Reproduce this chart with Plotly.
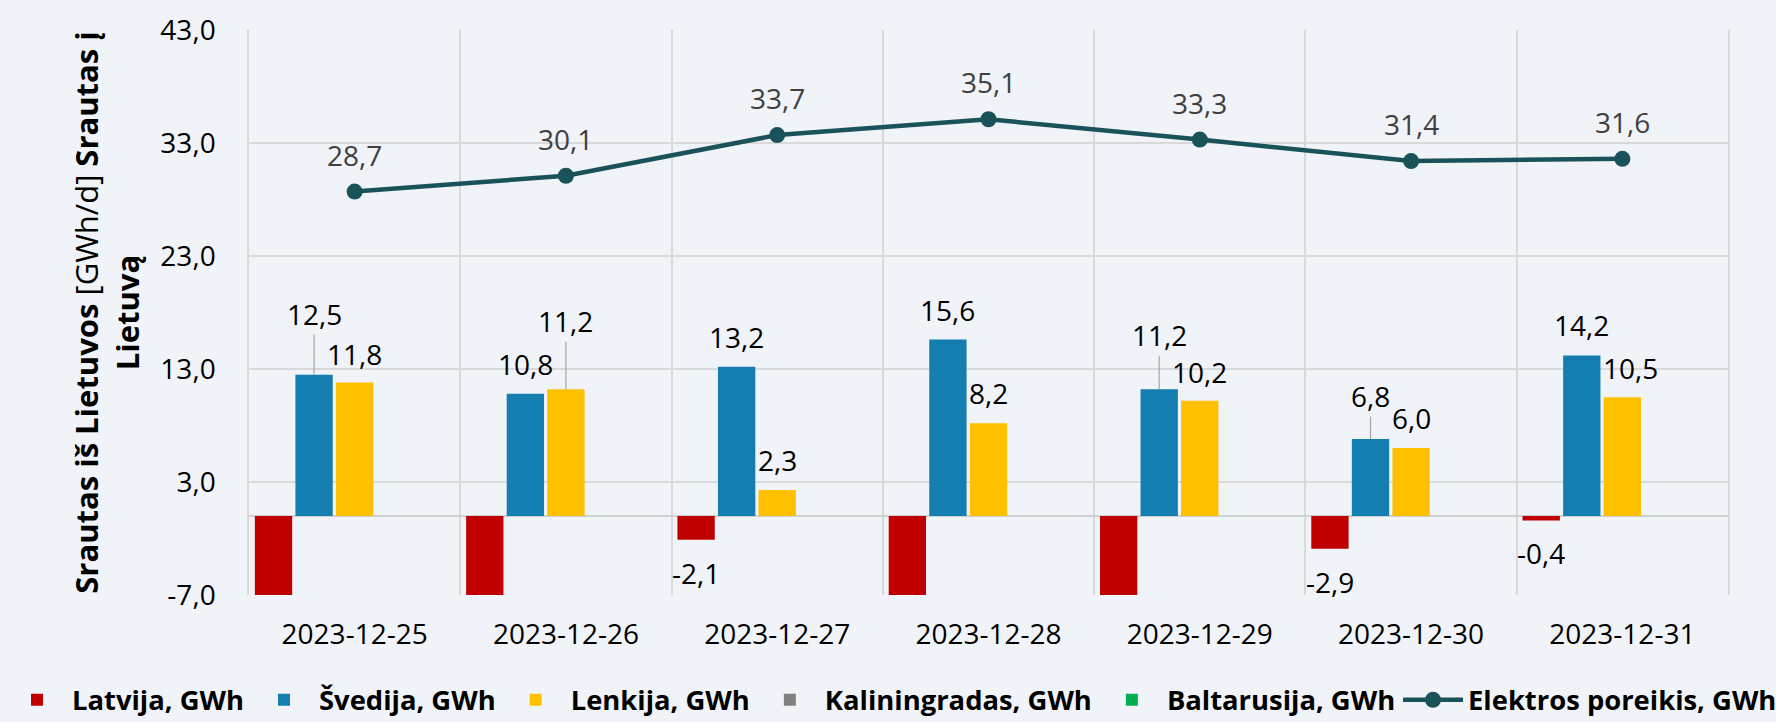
import plotly.graph_objects as go

# ---------------- data ----------------
dates = ["2023-12-25", "2023-12-26", "2023-12-27", "2023-12-28",
         "2023-12-29", "2023-12-30", "2023-12-31"]
latvija = [-10.4, -9.1, -2.1, -11.8, -9.6, -2.9, -0.4]   # clipped values estimated
svedija = [12.5, 10.8, 13.2, 15.6, 11.2, 6.8, 14.2]
lenkija = [11.8, 11.2, 2.3, 8.2, 10.2, 6.0, 10.5]
kaliningradas = [0, 0, 0, 0, 0, 0, 0]
baltarusija = [0, 0, 0, 0, 0, 0, 0]
poreikis = [28.7, 30.1, 33.7, 35.1, 33.3, 31.4, 31.6]

y_ticks = [-7, 3, 13, 23, 33, 43]

# ---------------- styles ----------------
W, H = 1776, 722
M_L, M_R, M_T, M_B = 249, 48, 30, 127
BARGAP, GROUPGAP = 0.04, 0.08
FONT = "Open Sans"
FS = 28
BG = "#F0F3F7"
GRID = "#D9D9D9"

colors = {
    "Latvija, GWh": "#C00000",
    "Švedija, GWh": "#157EB0",
    "Lenkija, GWh": "#FFC000",
    "Kaliningradas, GWh": "#808080",
    "Baltarusija, GWh": "#00B050",
}
LINE_COLOR = "#1A525A"

# label pixel offsets (style), positive = above
sv_off = [61, 30, 30, 30, 54, 43, 30]
sv_leader = [True, False, False, False, True, True, False]
le_off = [29, 68, 30, 30, 29, 30, 29]
le_leader = [False, True, False, False, False, False, False]
le_dx = [0, 0, 0, 0, 0, 0, 8]
NEG_OFF = 33
LINE_OFF = 37


def fmt(v):
    return f"{v:.1f}".replace(".", ",")


fig = go.Figure()
series = [("Latvija, GWh", latvija), ("Švedija, GWh", svedija),
          ("Lenkija, GWh", lenkija), ("Kaliningradas, GWh", kaliningradas),
          ("Baltarusija, GWh", baltarusija)]
for name, vals in series:
    fig.add_trace(go.Bar(x=dates, y=vals, name=name,
                         marker=dict(color=colors[name], line=dict(width=0)),
                         hoverinfo="skip", legend="legend"))

fig.add_trace(go.Scatter(x=dates, y=poreikis, name="Elektros poreikis, GWh",
                         mode="lines+markers",
                         line=dict(color=LINE_COLOR, width=4.5),
                         marker=dict(color=LINE_COLOR, size=16),
                         hoverinfo="skip", legend="legend2"))

# bar slot offsets in pixels
plot_w = W - M_L - M_R
plot_h = H - M_T - M_B
cat_w = plot_w / len(dates)
slot = cat_w * (1 - BARGAP) / len(series)
offs = [(i - (len(series) - 1) / 2) * slot for i in range(len(series))]

ann = []
lab_font = dict(family=FONT, size=FS, color="#000000")
for i, d in enumerate(dates):
    v = latvija[i]
    if v >= y_ticks[0]:
        ann.append(dict(x=d, y=v, xshift=offs[0], yshift=-NEG_OFF, text=fmt(v),
                        showarrow=False, yanchor="middle", xanchor="center",
                        font=lab_font))
    for vals, off, lead, k, dx in ((svedija, sv_off, sv_leader, 1, [0] * 7),
                                   (lenkija, le_off, le_leader, 2, le_dx)):
        v = vals[i]
        if lead[i]:
            ann.append(dict(x=d, y=v, xshift=offs[k], text=fmt(v),
                            showarrow=True, ax=dx[i], ay=-off[i], arrowhead=0,
                            arrowwidth=1.2, arrowcolor="#A6A6A6", standoff=0,
                            font=lab_font))
        else:
            ann.append(dict(x=d, y=v, xshift=offs[k] + dx[i], yshift=off[i],
                            text=fmt(v), showarrow=False, yanchor="middle",
                            xanchor="center", font=lab_font))
    ann.append(dict(x=d, y=poreikis[i], yshift=LINE_OFF, text=fmt(poreikis[i]),
                    showarrow=False, yanchor="middle", xanchor="center",
                    font=dict(family=FONT, size=FS, color="#404040")))

LEG_MID_PX = 700
LEG_FONT = dict(family=FONT, size=27.4, color="#000000", weight=700)


def leg(left_px):
    return dict(orientation="h", xref="paper", yref="paper",
                x=(left_px - M_L) / plot_w, xanchor="left",
                y=(H - M_B - LEG_MID_PX) / plot_h, yanchor="middle",
                font=LEG_FONT, bgcolor="rgba(0,0,0,0)", itemwidth=60,
                tracegroupgap=0, traceorder="normal")


fig.update_layout(
    width=W, height=H,
    margin=dict(l=M_L, r=M_R, t=M_T, b=M_B, autoexpand=False),
    paper_bgcolor=BG, plot_bgcolor=BG,
    barmode="group", bargap=BARGAP, bargroupgap=GROUPGAP,
    separators=", ",
    font=dict(family=FONT, size=FS, color="#000000"),
    annotations=ann,
    showlegend=True,
    legend=leg(2),
    legend2=leg(1398),
    xaxis=dict(type="category", tickson="boundaries", showgrid=True,
               gridcolor=GRID, gridwidth=1.5, ticks="", ticklabelstandoff=20,
               tickfont=dict(family=FONT, size=FS, color="#000000"),
               showline=False, zeroline=False),
    yaxis=dict(range=[y_ticks[0], y_ticks[-1]], tickvals=y_ticks,
               ticktext=[fmt(v) for v in y_ticks],
               showgrid=True, gridcolor=GRID, gridwidth=1.5,
               zeroline=True, zerolinecolor="#D0D0D0", zerolinewidth=2,
               showline=True, linecolor=GRID, linewidth=1.5, mirror=True,
               ticks="", ticklabelstandoff=26,
               tickfont=dict(family=FONT, size=FS, color="#000000"),
               title=dict(text="<b>Srautas iš Lietuvos</b> [GWh/d] <b>Srautas į</b><br><b>Lietuvą</b>",
                          font=dict(family=FONT, size=31, color="#000000"),
                          standoff=12)),
)

fig.write_html("out.html", config={"displayModeBar": False},
               post_script="document.body.style.margin='0';")
